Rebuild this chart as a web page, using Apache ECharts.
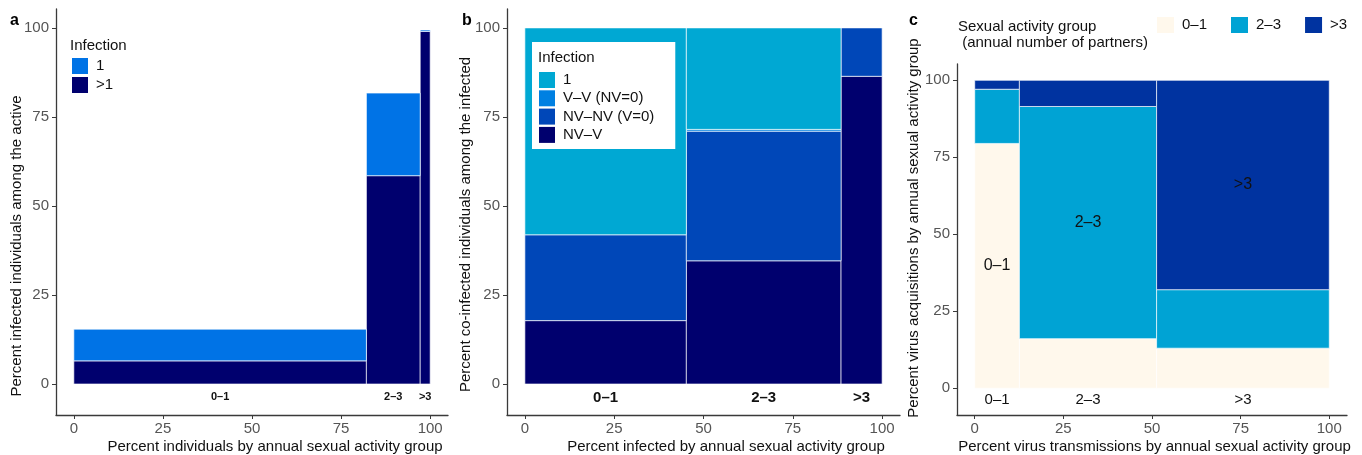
<!DOCTYPE html>
<html>
<head>
<meta charset="utf-8">
<script src="https://cdn.jsdelivr.net/npm/echarts@6/dist/echarts.min.js"></script>
<style>
  html, body { margin: 0; padding: 0; background: #fff; }
  #chart { width: 1362px; height: 455px; }
</style>
</head>
<body>
<div id="chart"></div>
<script>
// ---- data ----
const groups = ['0–1', '2–3', '>3'];
const tickValues = [0, 25, 50, 75, 100];

// panel a: share of individuals per activity group (cumulative breaks on x)
const breaksA = [0, 82.1, 97.2, 100];
const infectedMultiA = [6.5, 58.5, 99.0];   // >1 infection
const infectedAnyA = [15.4, 81.7, 99.4];    // any infection (top of "1")

// panel b: share of infected per group, and composition of co-infection
const breaksB = [0, 45.2, 88.5, 100];
const bNVV = [17.8, 34.6, 86.4];
const bNVNV = [24.1, 36.4, 13.6];
const bVV = [0, 0.5, 0];
const bSingle = [58.1, 28.5, 0];

// panel c: transmissions by source group (x) and acquisitions by group (y)
const breaksC = [0, 12.6, 51.3, 100];
const c01 = [79.5, 16.1, 13.0];
const c23 = [17.6, 75.4, 19.0];
const c3 = [2.9, 8.5, 68.0];

// ---- styling ----
const FONT = 'Liberation Sans, Arial, sans-serif';
const colA = { single: '#0073e6', multi: '#00006e' };
const colB = { single: '#00a8d3', vv: '#0080e2', nvnv: '#0047b8', nvv: '#00006e' };
const colC = ['#fff8ec', '#00a3d4', '#0033a0'];
const BORDER = 'rgba(255,255,255,0.65)';

// rectangles [x0, x1, y0, y1, group] stacked from a list of layer values
function stackRects(breaks, layers) {
  const out = layers.map(() => []);
  for (let g = 0; g < breaks.length - 1; g++) {
    let base = 0;
    layers.forEach((vals, k) => {
      out[k].push([breaks[g], breaks[g + 1], base, base + vals[g], g]);
      base += vals[g];
    });
  }
  return out;
}

const rectsA = [
  groups.map((_, g) => [breaksA[g], breaksA[g + 1], 0, infectedMultiA[g], g]),
  groups.map((_, g) => [breaksA[g], breaksA[g + 1], infectedMultiA[g], infectedAnyA[g], g])
];
const rectsB = stackRects(breaksB, [bNVV, bNVNV, bVV, bSingle]);
const rectsC = stackRects(breaksC, [c01, c23, c3]);

function mids(breaks) {
  return groups.map((_, g) => [(breaks[g] + breaks[g + 1]) / 2, g]);
}

function rectRenderer(color, labelFor) {
  return function (params, api) {
    const x0 = api.value(0), x1 = api.value(1), y0 = api.value(2), y1 = api.value(3);
    if (y1 - y0 <= 0) return null;
    const p0 = api.coord([x0, y1]);
    const p1 = api.coord([x1, y0]);
    const children = [{
      type: 'rect',
      shape: { x: p0[0], y: p0[1], width: p1[0] - p0[0], height: p1[1] - p0[1] },
      style: { fill: color, stroke: BORDER, lineWidth: 1 }
    }];
    if (labelFor && labelFor(api.value(4))) {
      children.push({
        type: 'text',
        x: (p0[0] + p1[0]) / 2, y: (p0[1] + p1[1]) / 2,
        style: { text: groups[api.value(4)], fontFamily: FONT, fontSize: 16, fill: '#111', align: 'center', verticalAlign: 'middle' },
        z2: 10
      });
    }
    return { type: 'group', children };
  };
}

function groupLabelRenderer(yVal, size, weight) {
  return function (params, api) {
    const p = api.coord([api.value(0), yVal]);
    return {
      type: 'text', x: p[0], y: p[1],
      style: { text: groups[api.value(1)], fontFamily: FONT, fontSize: size, fontWeight: weight, fill: '#111', align: 'center', verticalAlign: 'middle' }
    };
  };
}

function xAxisCfg(gridIndex, name, padLeft) {
  return {
    type: 'value', gridIndex, min: -5, max: 105,
    name, nameLocation: 'middle', nameGap: 24, nameMoveOverlap: false,
    nameTextStyle: { fontFamily: FONT, fontSize: 15, color: '#111', padding: [0, 0, 0, padLeft] },
    axisLine: { show: true, onZero: false, lineStyle: { color: '#3a3a3a', width: 1.3 } },
    axisTick: { show: true, length: 4, lineStyle: { color: '#3a3a3a' }, customValues: tickValues },
    axisLabel: { fontFamily: FONT, fontSize: 15, color: '#555', margin: 6, customValues: tickValues },
    splitLine: { show: false }
  };
}
function yAxisCfg(gridIndex, name, gap, pad) {
  return {
    type: 'value', gridIndex, min: -8.7, max: 105.3,
    name, nameLocation: 'middle', nameGap: gap, nameMoveOverlap: false,
    nameTextStyle: { fontFamily: FONT, fontSize: 15, color: '#111', padding: pad },
    axisLine: { show: true, onZero: false, lineStyle: { color: '#3a3a3a', width: 1.3 } },
    axisTick: { show: true, length: 4, lineStyle: { color: '#3a3a3a' }, customValues: tickValues },
    axisLabel: { fontFamily: FONT, fontSize: 15, color: '#555', margin: 7, customValues: tickValues },
    splitLine: { show: false }
  };
}

function rectSeries(name, data, color, gridIdx, labelFor) {
  return {
    type: 'custom', name, xAxisIndex: gridIdx, yAxisIndex: gridIdx,
    renderItem: rectRenderer(color, labelFor),
    encode: { x: [0, 1], y: [2, 3] },
    itemStyle: { color },
    data, silent: true
  };
}

const legendText = { fontFamily: FONT, fontSize: 15, color: '#111', padding: [0, 0, 0, 3] };
const letterStyle = { fontFamily: FONT, fontSize: 16, fontWeight: 'bold', color: '#000' };
const headStyle = { fontFamily: FONT, fontSize: 15, fontWeight: 'normal', color: '#111' };

const option = {
  animation: false,
  backgroundColor: '#fff',
  grid: [
    { left: 56, top: 9, width: 392, height: 406, outerBoundsMode: 'none' },
    { left: 507, top: 9, width: 393, height: 406, outerBoundsMode: 'none' },
    { left: 957, top: 64, width: 390, height: 351, outerBoundsMode: 'none' }
  ],
  xAxis: [
    xAxisCfg(0, 'Percent individuals by annual sexual activity group', 46),
    xAxisCfg(1, 'Percent infected by annual sexual activity group', 45),
    xAxisCfg(2, 'Percent virus transmissions by annual sexual activity group', 5)
  ],
  yAxis: [
    yAxisCfg(0, 'Percent infected individuals among the active', 32, [0, 68, 0, 0]),
    yAxisCfg(1, 'Percent co-infected individuals among the infected', 34, [0, 25, 0, 0]),
    yAxisCfg(2, 'Percent virus acquisitions by annual sexual activity group', 36, [0, 0, 0, 23])
  ],
  title: [
    { text: 'a', left: 10, top: 13, padding: 0, textStyle: letterStyle },
    { text: 'b', left: 462, top: 13, padding: 0, textStyle: letterStyle },
    { text: 'c', left: 909, top: 13, padding: 0, textStyle: letterStyle },
    { text: 'Infection', left: 70, top: 38, padding: 0, textStyle: headStyle },
    { text: 'Infection', left: 538, top: 50, padding: 0, z: 10, textStyle: headStyle },
    { text: 'Sexual activity group\n (annual number of partners)', left: 958, top: 18.5, padding: 0,
      textStyle: Object.assign({ lineHeight: 16 }, headStyle) }
  ],
  legend: [
    {
      orient: 'vertical', left: 72, top: 58, padding: 0, itemWidth: 16, itemHeight: 16, itemGap: 3,
      selectedMode: false, icon: 'rect', textStyle: legendText,
      data: [
        { name: '1', itemStyle: { color: colA.single } },
        { name: '>1', itemStyle: { color: colA.multi } }
      ]
    },
    {
      orient: 'vertical', left: 532, top: 42, padding: [30, 21, 6, 7], itemWidth: 16, itemHeight: 16, itemGap: 2.3,
      backgroundColor: '#fff', selectedMode: false, icon: 'rect', textStyle: legendText,
      data: [
        { name: '1', itemStyle: { color: colB.single } },
        { name: 'V–V (NV=0)', itemStyle: { color: colB.vv } },
        { name: 'NV–NV (V=0)', itemStyle: { color: colB.nvnv } },
        { name: 'NV–V', itemStyle: { color: colB.nvv } }
      ]
    },
    {
      orient: 'horizontal', left: 1157, top: 17, padding: 0, itemWidth: 17, itemHeight: 16, itemGap: 24,
      selectedMode: false, icon: 'rect', textStyle: legendText,
      data: groups.map((g, i) => ({ name: g, itemStyle: { color: colC[i] } }))
    }
  ],
  series: [
    rectSeries('>1', rectsA[0], colA.multi, 0),
    rectSeries('1', rectsA[1], colA.single, 0),
    { type: 'custom', xAxisIndex: 0, yAxisIndex: 0, renderItem: groupLabelRenderer(-3.7, 11, 'bold'), data: mids(breaksA), silent: true },

    rectSeries('NV–V', rectsB[0], colB.nvv, 1),
    rectSeries('NV–NV (V=0)', rectsB[1], colB.nvnv, 1),
    rectSeries('V–V (NV=0)', rectsB[2], colB.vv, 1),
    rectSeries('1', rectsB[3], colB.single, 1),
    { type: 'custom', xAxisIndex: 1, yAxisIndex: 1, renderItem: groupLabelRenderer(-4, 15, 'bold'), data: mids(breaksB), silent: true },

    rectSeries(groups[0], rectsC[0], colC[0], 2, g => g === 0),
    rectSeries(groups[1], rectsC[1], colC[1], 2, g => g === 1),
    rectSeries(groups[2], rectsC[2], colC[2], 2, g => g === 2),
    { type: 'custom', xAxisIndex: 2, yAxisIndex: 2, renderItem: groupLabelRenderer(-3.8, 15, 'normal'), data: mids(breaksC), silent: true }
  ]
};

const chart = echarts.init(document.getElementById('chart'), null, { renderer: 'canvas' });
chart.setOption(option);
</script>
</body>
</html>
